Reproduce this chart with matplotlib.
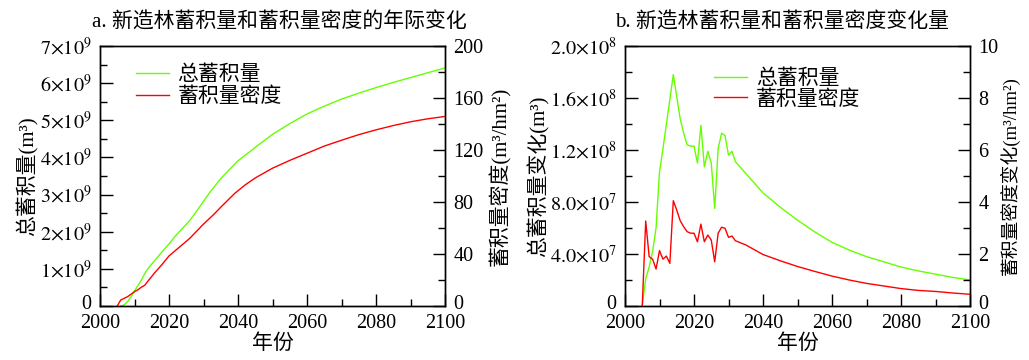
import matplotlib
matplotlib.use("Agg")
import matplotlib.pyplot as plt
from matplotlib.ticker import MultipleLocator, FixedLocator
from matplotlib.transforms import ScaledTranslation

plt.rcParams['font.family'] = ['Liberation Serif', 'Noto Sans CJK SC']
plt.rcParams['mathtext.fontset'] = 'stix'

# ---- Panel a data ----
years_a_green = [2006, 2007, 2008, 2009, 2010, 2011, 2012, 2013, 2014, 2016, 2018, 2020,
                 2022, 2024, 2026, 2028, 2030, 2032, 2035, 2040, 2045, 2050, 2055, 2060,
                 2065, 2070, 2075, 2080, 2085, 2090, 2095, 2100]
total_stock = [0.0, 0.03, 0.12, 0.25, 0.41, 0.55, 0.70, 0.88, 1.02, 1.24, 1.46, 1.67,
               1.90, 2.10, 2.30, 2.55, 2.82, 3.08, 3.43, 3.91, 4.27, 4.62, 4.91, 5.17,
               5.38, 5.57, 5.73, 5.88, 6.02, 6.15, 6.28, 6.41]  # x1e9 m3

years_a_red = [2005, 2006, 2008, 2010, 2011, 2012, 2013, 2014, 2016, 2018, 2020, 2022,
               2024, 2026, 2028, 2030, 2033, 2035, 2039, 2042, 2045, 2050, 2055, 2060,
               2065, 2070, 2075, 2080, 2085, 2090, 2095, 2100]
stock_density = [0, 4.6, 7.2, 11.0, 12.5, 14.5, 16.0, 19.5, 26.0, 32.0, 38.5, 43.0,
                 47.5, 52.0, 57.5, 63.0, 70.5, 76.0, 86.5, 93.0, 98.5, 106.0, 112.0, 117.5,
                 123.0, 127.5, 131.8, 135.5, 138.8, 141.7, 144.0, 145.8]  # m3/hm2

# ---- Panel b data ----
years_b = [2005, 2006, 2007, 2008, 2009, 2010, 2011, 2012, 2013, 2014, 2015, 2016, 2017,
           2018, 2019, 2020, 2021, 2022, 2023, 2024, 2025, 2026, 2027, 2028, 2029, 2030,
           2031, 2032, 2035, 2040, 2045, 2050, 2055, 2060, 2065, 2070, 2075, 2080, 2085,
           2090, 2095, 2100]
total_change = [0, 2.1, 3.0, 4.2, 6.0, 10.3, 12.1, 14.0, 15.9, 17.8, 16.1, 14.4, 13.3,
                12.4, 12.3, 12.3, 11.0, 13.9, 10.7, 11.9, 11.0, 7.5, 12.1, 13.3, 13.1, 11.6,
                11.9, 11.1, 10.2, 8.7, 7.6, 6.6, 5.7, 4.9, 4.3, 3.8, 3.4, 3.0, 2.7,
                2.45, 2.2, 2.0]  # x1e7 m3
density_change = [0, 3.27, 1.9, 1.8, 1.42, 2.13, 1.8, 1.92, 1.64, 4.05, 3.69, 3.28, 3.05,
                  2.86, 2.8, 2.8, 2.47, 3.15, 2.47, 2.73, 2.54, 1.7, 2.8, 3.03, 2.99, 2.64,
                  2.69, 2.51, 2.35, 1.98, 1.74, 1.52, 1.33, 1.15, 1.0, 0.87, 0.77, 0.67, 0.6,
                  0.56, 0.5, 0.45]  # m3/hm2

labels_a_left = ['0'] + [r'$%d{\times}10^{9}$' % i for i in range(1, 8)]
labels_b_left = ['0', r'$4.0{\times}10^{7}$', r'$8.0{\times}10^{7}$',
                 r'$1.2{\times}10^{8}$', r'$1.6{\times}10^{8}$', r'$2.0{\times}10^{8}$']

GREEN = '#66ff00'
RED = '#ff0000'
TICK_FS = 14.5
LAB_FS = 15
TITLE_FS = 15
LEG_FS = 15

fig = plt.figure(figsize=(10.29, 3.6), dpi=100)


def style(ax, right=False):
    ax.tick_params(axis='both', which='both', direction='in', labelsize=TICK_FS, width=1)
    ax.tick_params(which='major', length=9)
    ax.tick_params(which='minor', length=5)
    ax.tick_params(axis='x', top=False, which='both')
    if right:
        ax.tick_params(axis='y', left=False, right=True, labelleft=False, labelright=True,
                       which='both', pad=6)
    else:
        ax.tick_params(axis='y', right=False, which='both', pad=6)
    for s in ax.spines.values():
        s.set_linewidth(1.0)


def decorate(ax, axr, title, tx, xl, yl, yr, ylx, yrx, yr_fs):
    ax.set_title(title, fontsize=TITLE_FS, x=tx, y=1.088, va='center', pad=0)
    ax.set_xlabel(xl, fontsize=LAB_FS)
    ax.xaxis.set_label_coords(0.5, -0.145)
    ax.xaxis.label.set_va('center')
    ax.set_ylabel(yl, fontsize=LAB_FS)
    ax.yaxis.set_label_coords(ylx, 0.5)
    ax.yaxis.label.set_va('center')
    axr.set_ylabel(yr, fontsize=yr_fs)
    axr.yaxis.set_label_coords(yrx, 0.5)
    axr.yaxis.label.set_va('center')


# ---------- Panel a ----------
ax1 = fig.add_axes([100 / 1029, 54 / 360, 345 / 1029, 260 / 360])
ax1r = ax1.twinx()
l1, = ax1.plot(years_a_green, [v * 1e9 for v in total_stock], color=GREEN, lw=1.0, label='总蓄积量')
l2, = ax1r.plot(years_a_red, stock_density, color=RED, lw=1.0, label='蓄积量密度')
ax1.set_xlim(2000, 2100)
ax1.set_ylim(0, 7e9)
ax1r.set_ylim(0, 200)
ax1.xaxis.set_major_locator(MultipleLocator(20))
ax1.xaxis.set_minor_locator(MultipleLocator(10))
ax1.yaxis.set_major_locator(FixedLocator([i * 1e9 for i in range(8)]))
ax1.yaxis.set_minor_locator(MultipleLocator(0.5e9))
ax1.set_yticklabels(labels_a_left)
ax1r.yaxis.set_major_locator(FixedLocator([0, 40, 80, 120, 160, 200]))
ax1r.yaxis.set_minor_locator(MultipleLocator(20))
style(ax1)
style(ax1r, right=True)
ax1.tick_params(axis='x', pad=6)
decorate(ax1, ax1r, 'a. 新造林蓄积量和蓄积量密度的年际变化', 0.519, '年份',
         '总蓄积量(m³)', '蓄积量密度(m³/hm²)', -0.209, 1.159, LAB_FS)
ax1.legend(handles=[l1, l2], loc='upper left', bbox_to_anchor=(0.104, 0.925), frameon=False,
           fontsize=LEG_FS, handlelength=1.6, handletextpad=0.4, labelspacing=0.12,
           borderpad=0, borderaxespad=0)

# ---------- Panel b ----------
ax2 = fig.add_axes([625 / 1029, 54 / 360, 345 / 1029, 260 / 360])
ax2r = ax2.twinx()
m1, = ax2.plot(years_b, [v * 1e7 for v in total_change], color=GREEN, lw=1.0, label='总蓄积量')
m2, = ax2r.plot(years_b, density_change, color=RED, lw=1.0, label='蓄积量密度')
ax2.set_xlim(2000, 2100)
ax2.set_ylim(0, 2e8)
ax2r.set_ylim(0, 10)
ax2.xaxis.set_major_locator(MultipleLocator(20))
ax2.xaxis.set_minor_locator(MultipleLocator(10))
ax2.yaxis.set_major_locator(FixedLocator([0, 0.4e8, 0.8e8, 1.2e8, 1.6e8, 2.0e8]))
ax2.yaxis.set_minor_locator(MultipleLocator(0.2e8))
ax2.set_yticklabels(labels_b_left)
ax2r.yaxis.set_major_locator(FixedLocator([0, 2, 4, 6, 8, 10]))
ax2r.yaxis.set_minor_locator(MultipleLocator(1))
style(ax2)
style(ax2r, right=True)
ax2.tick_params(axis='x', pad=6)
decorate(ax2, ax2r, 'b. 新造林蓄积量和蓄积量密度变化量', 0.4565, '年份',
         '总蓄积量变化(m³)', '蓄积量密度变化(m³/hm²)', -0.252, 1.116, 13.5)
ax2.legend(handles=[m1, m2], loc='upper left', bbox_to_anchor=(0.258, 0.91), frameon=False,
           fontsize=LEG_FS, handlelength=1.6, handletextpad=0.4, labelspacing=0.05,
           borderpad=0, borderaxespad=0)

# nudge the "0" labels of the y axes slightly upward so they clear the year labels
fig.canvas.draw()
shift = ScaledTranslation(0, 3 / 72, fig.dpi_scale_trans)
for a in (ax1, ax1r, ax2, ax2r):
    for t in a.yaxis.get_major_ticks():
        if abs(t.get_loc()) < 1e-9:
            for lab in (t.label1, t.label2):
                lab.set_transform(lab.get_transform() + shift)

fig.savefig('out.png', dpi=100)
